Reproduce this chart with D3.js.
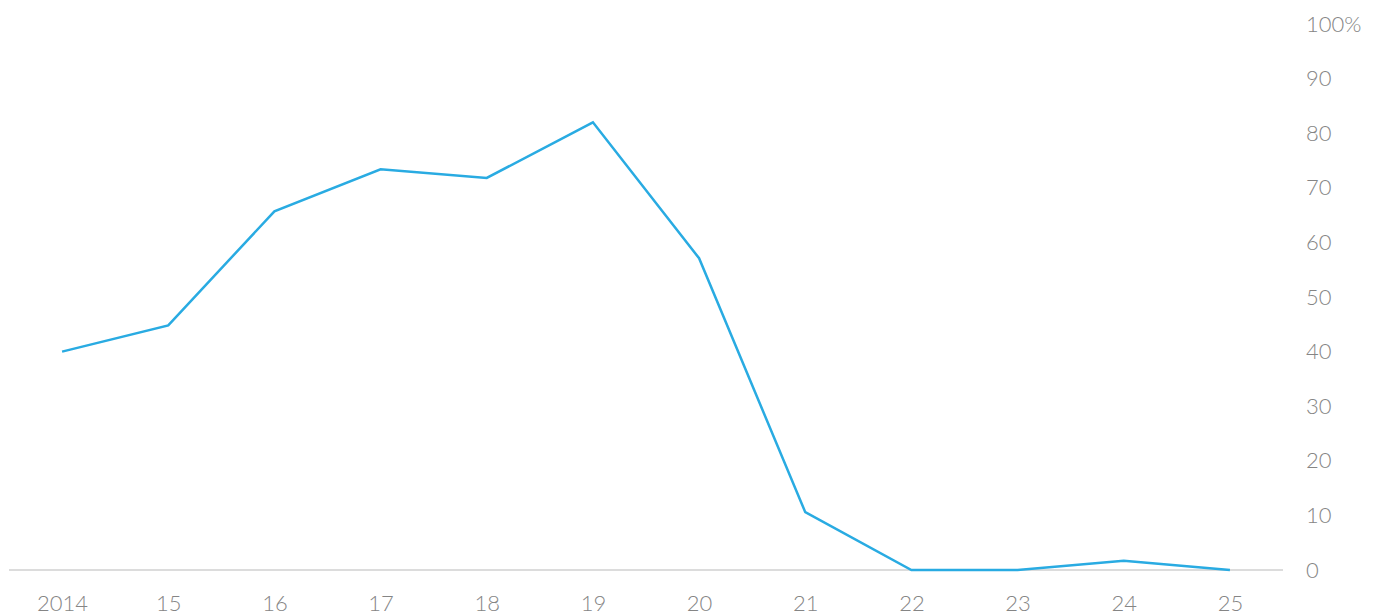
<!DOCTYPE html>
<html>
<head>
<meta charset="utf-8">
<script src="https://cdn.jsdelivr.net/npm/d3@7"></script>
<style>
  html, body { margin: 0; padding: 0; background: #fff; }
  svg { display: block; }
  text { font-family: Lato, "Open Sans", sans-serif; font-weight: 300; fill: #858585; }
</style>
</head>
<body>
<svg id="chart" width="1373" height="615"></svg>
<script>
const categories = ["2014", "15", "16", "17", "18", "19", "20", "21", "22", "23", "24", "25"];
const values = [40, 44.8, 65.7, 73.4, 71.8, 82, 57.1, 10.6, 0, 0, 1.7, 0];
const yTicks = [0, 10, 20, 30, 40, 50, 60, 70, 80, 90, 100];

const svg = d3.select("#chart");
const x = d3.scalePoint().domain(categories).range([9, 1283]).padding(0.5);
const y = d3.scaleLinear().domain([0, 100]).range([570, 24]);

// baseline
svg.append("line")
  .attr("x1", 9).attr("x2", 1283)
  .attr("y1", y(0)).attr("y2", y(0))
  .attr("stroke", "#dcdcdc").attr("stroke-width", 2);

// y axis labels (right)
const yAxis = d3.axisRight(y).tickValues(yTicks)
  .tickSize(0).tickPadding(0)
  .tickFormat(d => d === 100 ? "100%" : String(d));
const gy = svg.append("g").attr("transform", "translate(1306,0)").call(yAxis);
gy.select(".domain").remove();
gy.selectAll("text").attr("font-size", 22).attr("fill", "#858585")
  .style("font-family", "Lato, 'Open Sans', sans-serif").style("font-weight", 300);

// x axis labels
const xAxis = d3.axisBottom(x).tickSize(0).tickPadding(0);
const gx = svg.append("g").attr("transform", "translate(0,595)").call(xAxis);
gx.select(".domain").remove();
gx.selectAll("text").attr("font-size", 22).attr("fill", "#858585")
  .style("font-family", "Lato, 'Open Sans', sans-serif").style("font-weight", 300);

// line
const line = d3.line()
  .x((d, i) => x(categories[i]))
  .y(d => y(d));
svg.append("path")
  .datum(values)
  .attr("fill", "none")
  .attr("stroke", "#29abe2")
  .attr("stroke-width", 2.5)
  .attr("stroke-linejoin", "miter")
  .attr("d", line);
</script>
</body>
</html>
